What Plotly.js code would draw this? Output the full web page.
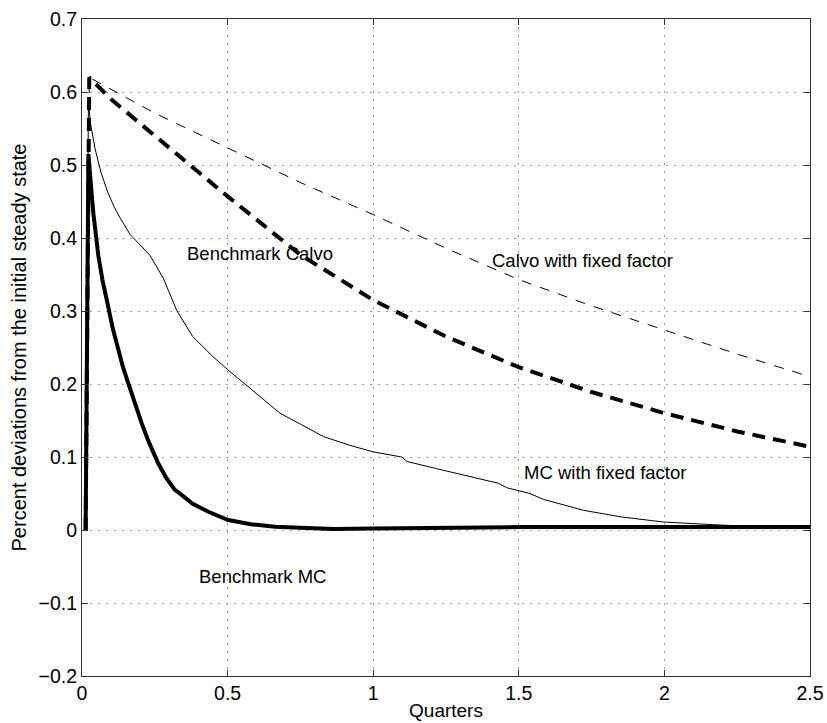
<!DOCTYPE html>
<html>
<head>
<meta charset="utf-8">
<script src="https://cdn.plot.ly/plotly-3.0.1.min.js"></script>
<style>html,body{margin:0;padding:0;background:#fff;}#chart{width:827px;height:723px;}</style>
</head>
<body>
<div id="chart"></div>
<script>
// Benchmark Calvo (thick dashed)
var calvoX = [0.0125, 0.025, 0.1, 0.25, 0.5, 0.75, 1.0, 1.25, 1.5, 1.75, 2.0, 2.25, 2.5];
var calvoY = [0, 0.62, 0.59, 0.54, 0.457, 0.377, 0.315, 0.265, 0.223, 0.189, 0.160, 0.135, 0.114];

// Calvo with fixed factor (thin dashed)
var calvoFixedX = [0.0125, 0.025, 0.25, 0.5, 0.75, 1.0, 1.25, 1.5, 1.75, 2.0, 2.25, 2.5];
var calvoFixedY = [0, 0.62, 0.571, 0.523, 0.476, 0.432, 0.386, 0.343, 0.307, 0.274, 0.241, 0.21];

// MC with fixed factor (thin solid)
var mcFixedX = [0.0125, 0.022, 0.03, 0.045, 0.065, 0.09, 0.11, 0.13, 0.165, 0.205, 0.234, 0.279, 0.325, 0.38, 0.451, 0.508, 0.6, 0.68, 0.75, 0.829, 0.92, 1.0, 1.098, 1.115, 1.218, 1.32, 1.43, 1.458, 1.538, 1.584, 1.65, 1.722, 1.85, 1.996, 2.18, 2.3, 2.5];
var mcFixedY = [0, 0.585, 0.555, 0.522, 0.49, 0.461, 0.443, 0.428, 0.405, 0.388, 0.376, 0.345, 0.301, 0.265, 0.237, 0.217, 0.187, 0.160, 0.145, 0.128, 0.116, 0.107, 0.100, 0.094, 0.084, 0.074, 0.064, 0.058, 0.050, 0.042, 0.035, 0.027, 0.018, 0.011, 0.007, 0.005, 0.004];

// Benchmark MC (thick solid)
var mcX = [0.0125, 0.022, 0.033, 0.039, 0.056, 0.07, 0.09, 0.105, 0.125, 0.14, 0.159, 0.18, 0.205, 0.23, 0.262, 0.29, 0.319, 0.342, 0.38, 0.434, 0.502, 0.58, 0.663, 0.75, 0.863, 1.0, 1.25, 1.5, 2.0, 2.5];
var mcY = [0, 0.515, 0.461, 0.434, 0.376, 0.343, 0.306, 0.277, 0.247, 0.224, 0.201, 0.174, 0.146, 0.12, 0.091, 0.071, 0.055, 0.048, 0.036, 0.025, 0.0137, 0.008, 0.0045, 0.003, 0.0015, 0.002, 0.003, 0.004, 0.004, 0.004];

var labelText = ["Benchmark Calvo", "Calvo with fixed factor", "MC with fixed factor", "Benchmark MC"];
var labelX = [0.354, 1.401, 1.51, 0.395];
var labelY = [0.379, 0.369, 0.0785, -0.064];

var xTickVals = [0, 0.5, 1, 1.5, 2, 2.5];
var yTickVals = [-0.2, -0.1, 0, 0.1, 0.2, 0.3, 0.4, 0.5, 0.6, 0.7];

var FONT = "Liberation Sans, Arial, Helvetica, sans-serif";

var traces = [
  {x: calvoFixedX, y: calvoFixedY, mode: "lines", line: {color: "#000", width: 1, dash: "10px,9px"}, name: labelText[1]},
  {x: mcFixedX, y: mcFixedY, mode: "lines", line: {color: "#000", width: 1}, name: labelText[2]},
  {x: calvoX, y: calvoY, mode: "lines", line: {color: "#000", width: 4, dash: "13px,8px"}, name: labelText[0]},
  {x: mcX, y: mcY, mode: "lines", line: {color: "#000", width: 4}, name: labelText[3]}
];

var annotations = labelText.map(function (t, i) {
  return {x: labelX[i], y: labelY[i], xref: "x", yref: "y", text: t, showarrow: false,
          xanchor: "left", yanchor: "middle", font: {family: FONT, size: 18.5, color: "#000"}};
});

var axisCommon = {
  showline: true, linecolor: "#333", linewidth: 1, mirror: "ticks",
  ticks: "inside", ticklen: 6, tickcolor: "#333", tickwidth: 1,
  showgrid: true, gridcolor: "#9a9a9a", gridwidth: 1, griddash: "1.5px,6.5px",
  zeroline: false, tickfont: {family: FONT, size: 19.5, color: "#000"}
};

var layout = {
  width: 827, height: 723,
  margin: {l: 82, r: 17, t: 19, b: 47},
  paper_bgcolor: "#fff", plot_bgcolor: "#fff",
  showlegend: false,
  xaxis: Object.assign({}, axisCommon, {
    range: [0, 2.5], tickvals: xTickVals, ticktext: xTickVals.map(String),
    title: {text: "Quarters", font: {family: FONT, size: 19, color: "#000"}, standoff: 0}
  }),
  yaxis: Object.assign({}, axisCommon, {
    range: [-0.2, 0.7], tickvals: yTickVals,
    ticktext: yTickVals.map(function (v) { return v < 0 ? "\u2212" + String(-v) : String(v); }),
    title: {text: "Percent deviations from the initial steady state", font: {family: FONT, size: 20, color: "#000"}, standoff: 6}
  }),
  annotations: annotations
};

Plotly.newPlot("chart", traces, layout, {displayModeBar: false, staticPlot: true});
</script>
</body>
</html>
